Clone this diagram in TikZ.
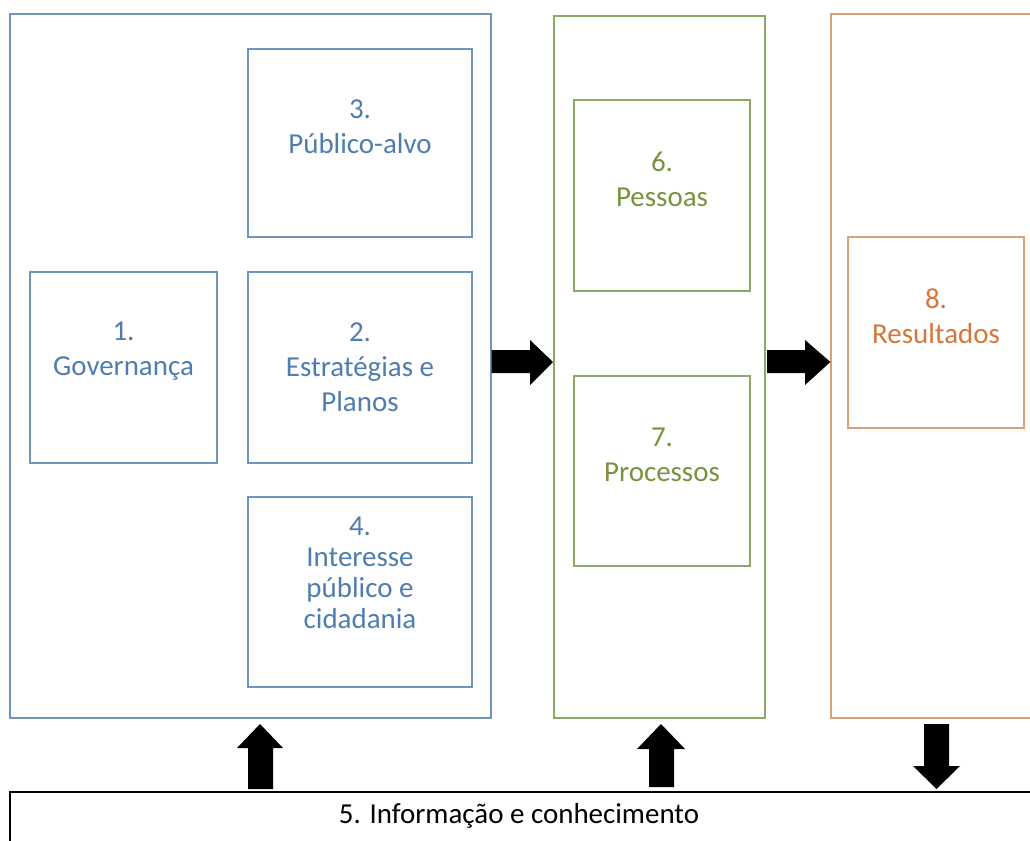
\documentclass[tikz,border=0pt]{standalone}
\usepackage{fontspec}
\setmainfont{Carlito}
\usetikzlibrary{fit,calc}
\definecolor{blueline}{RGB}{112,148,186}
\definecolor{bluetext}{RGB}{79,125,175}
\definecolor{greenline}{RGB}{140,168,105}
\definecolor{greentext}{RGB}{119,147,60}
\definecolor{orangeline}{RGB}{218,160,118}
\definecolor{orangetext}{RGB}{214,118,58}
\begin{document}
\begin{tikzpicture}[x=0.75pt,y=-0.75pt,
  frame/.style={draw=#1, line width=0.9pt, inner sep=0pt, fill=none},
  label/.style={text=#1, align=center, inner sep=0pt,
    font=\fontsize{21.7}{26.3}\selectfont},
  tightlabel/.style={text=#1, align=center, inner sep=0pt,
    font=\fontsize{21.7}{23.3}\selectfont},
  blockarrow/.style={fill=black, draw=none}]
\useasboundingbox (0,0) rectangle (1030,841);
\fill[white] (0,0) rectangle (1030,841);
\clip (0,0) rectangle (1030,841);

% left group: governance and planning
\node[frame=blueline, fit={(10,14) (491,718)}] (left) {};
\node[frame=blueline, fit={(248,49) (472,237)}] (b3) {};
\node[frame=blueline, fit={(30,272) (217,463)}] (b1) {};
\node[frame=blueline, fit={(248,272) (472,463)}] (b2) {};
\node[frame=blueline, fit={(248,497) (472,687)}] (b4) {};
\node[label=bluetext] (t3) at ($(b3.center)+(0,-16)$) {3.\\Público-alvo};
\node[label=bluetext] (t1) at ($(b1.center)+(0,-16)$) {1.\\Governança};
\node[label=bluetext] (t2) at (b2.center) {2.\\Estratégias e\\Planos};
\node[tightlabel=bluetext] (t4) at ($(b4.center)+(0,-19)$) {4.\\Interesse\\público e\\cidadania};

% middle group: people and processes
\node[frame=greenline, fit={(554,16) (765,718)}] (mid) {};
\node[frame=greenline, fit={(574,100) (750,291)}] (b6) {};
\node[frame=greenline, fit={(574,376) (750,566)}] (b7) {};
\node[label=greentext] (t6) at ($(b6.center)+(0,-16)$) {6.\\Pessoas};
\node[label=greentext] (t7) at ($(b7.center)+(0,-16)$) {7.\\Processos};

% right group: results
\node[frame=orangeline, fit={(831,14) (1045,718)}] (right) {};
\node[frame=orangeline, fit={(848,237) (1024,428)}] (b8) {};
\node[label=orangetext] (t8) at ($(b8.center)+(0,-16)$) {8.\\Resultados};

% information and knowledge base
\node[draw=black, line width=1.6pt, inner sep=0pt, fit={(10,792) (1050,870)}] (base) {};
\node[label=black] (t5) at (519,816) {5. Informação e conhecimento};

% block arrows
\fill[blockarrow] (left.east |- 0,350) -- (530,350) -- (530,340) -- (553,362)
  -- (530,385) -- (530,373) -- (left.east |- 0,373) -- cycle;
\fill[blockarrow] (767,350) -- (805,350) -- (805,340) -- (right.west |- 0,362)
  -- (805,385) -- (805,373) -- (767,373) -- cycle;
\fill[blockarrow] (248,789) -- (248,748) -- (237,748) -- (260,724)
  -- (283,748) -- (273,748) -- (273,789) -- cycle;
\fill[blockarrow] (649,787) -- (649,749) -- (637,749) -- (661,724)
  -- (685,749) -- (674,749) -- (674,787) -- cycle;
\fill[blockarrow] (924,724) -- (949,724) -- (949,766) -- (960,766)
  -- (936.5,789) -- (913,766) -- (924,766) -- cycle;
\end{tikzpicture}
\end{document}
